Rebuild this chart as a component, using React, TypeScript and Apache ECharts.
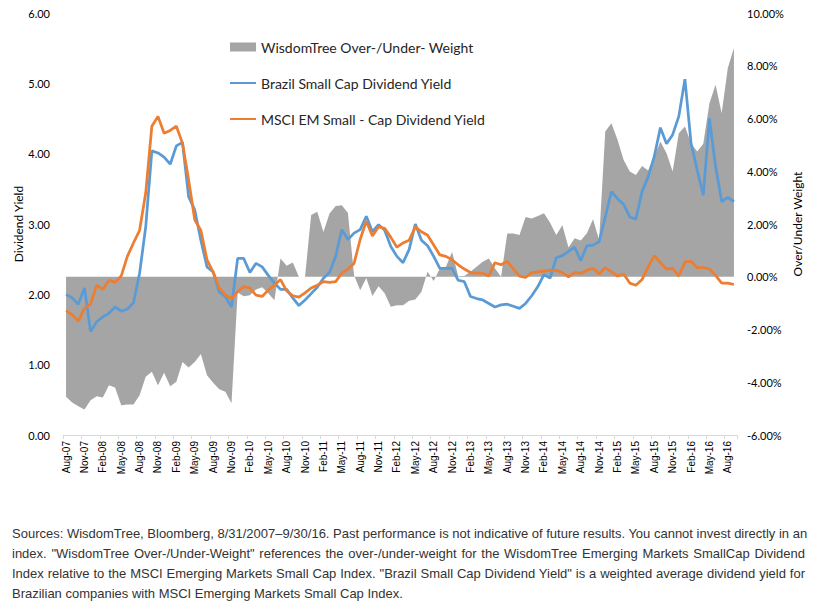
import React, { useEffect, useRef } from "react";
import * as echarts from "echarts";

const months = [
  "Aug-07","Sep-07","Oct-07","Nov-07","Dec-07","Jan-08","Feb-08","Mar-08","Apr-08","May-08","Jun-08","Jul-08",
  "Aug-08","Sep-08","Oct-08","Nov-08","Dec-08","Jan-09","Feb-09","Mar-09","Apr-09","May-09","Jun-09","Jul-09",
  "Aug-09","Sep-09","Oct-09","Nov-09","Dec-09","Jan-10","Feb-10","Mar-10","Apr-10","May-10","Jun-10","Jul-10",
  "Aug-10","Sep-10","Oct-10","Nov-10","Dec-10","Jan-11","Feb-11","Mar-11","Apr-11","May-11","Jun-11","Jul-11",
  "Aug-11","Sep-11","Oct-11","Nov-11","Dec-11","Jan-12","Feb-12","Mar-12","Apr-12","May-12","Jun-12","Jul-12",
  "Aug-12","Sep-12","Oct-12","Nov-12","Dec-12","Jan-13","Feb-13","Mar-13","Apr-13","May-13","Jun-13","Jul-13",
  "Aug-13","Sep-13","Oct-13","Nov-13","Dec-13","Jan-14","Feb-14","Mar-14","Apr-14","May-14","Jun-14","Jul-14",
  "Aug-14","Sep-14","Oct-14","Nov-14","Dec-14","Jan-15","Feb-15","Mar-15","Apr-15","May-15","Jun-15","Jul-15",
  "Aug-15","Sep-15","Oct-15","Nov-15","Dec-15","Jan-16","Feb-16","Mar-16","Apr-16","May-16","Jun-16","Jul-16",
  "Aug-16","Sep-16"
];

const brazilYield = [
  2.00,1.95,1.86,2.09,1.47,1.61,1.68,1.73,1.82,1.76,1.79,1.88,
  2.30,2.96,4.04,4.01,3.95,3.85,4.11,4.16,3.39,3.20,2.77,2.39,
  2.32,2.03,1.97,1.82,2.51,2.51,2.31,2.44,2.39,2.27,2.16,2.07,
  2.07,1.95,1.84,1.92,2.01,2.10,2.23,2.31,2.54,2.92,2.78,2.87,
  2.92,3.11,2.89,2.99,2.91,2.68,2.54,2.45,2.64,3.00,2.77,2.69,
  2.54,2.37,2.37,2.37,2.20,2.18,1.97,1.94,1.92,1.87,1.82,1.85,
  1.86,1.83,1.80,1.87,1.98,2.11,2.28,2.23,2.52,2.55,2.61,2.67,
  2.48,2.69,2.70,2.75,3.10,3.46,3.36,3.28,3.10,3.07,3.46,3.67,
  3.96,4.37,4.14,4.27,4.53,5.06,4.15,3.77,3.41,4.50,3.82,3.32,
  3.38,3.32
];

const msciYield = [
  1.77,1.71,1.62,1.80,1.86,2.13,2.07,2.20,2.17,2.26,2.54,2.73,
  2.91,3.44,4.39,4.53,4.29,4.33,4.39,4.15,3.63,3.06,2.91,2.49,
  2.32,2.09,1.99,1.94,2.04,2.11,2.09,1.99,1.97,2.06,2.13,2.21,
  2.05,1.98,1.96,2.02,2.09,2.13,2.18,2.17,2.18,2.30,2.36,2.44,
  2.78,3.04,2.83,2.96,2.94,2.81,2.67,2.73,2.77,2.96,2.89,2.84,
  2.70,2.56,2.54,2.49,2.42,2.36,2.31,2.30,2.30,2.26,2.45,2.42,
  2.47,2.36,2.26,2.24,2.31,2.32,2.33,2.34,2.34,2.31,2.25,2.31,
  2.30,2.34,2.37,2.29,2.38,2.32,2.26,2.29,2.16,2.13,2.21,2.39,
  2.55,2.45,2.36,2.37,2.26,2.46,2.47,2.38,2.38,2.36,2.27,2.16,
  2.16,2.14
];

const overUnderWeight = [
  -4.55,-4.77,-4.91,-5.03,-4.68,-4.53,-4.58,-4.11,-4.20,-4.87,-4.84,-4.84,
  -4.49,-3.79,-3.60,-4.11,-3.64,-4.15,-3.98,-3.23,-3.44,-3.23,-2.93,-3.73,
  -4.02,-4.27,-4.36,-4.80,-0.60,-0.74,-0.70,-0.48,-0.40,-0.63,-0.89,0.69,
  0.42,0.54,0.00,0.00,2.34,2.46,1.70,2.40,2.68,2.71,2.42,0.06,
  -0.51,-0.05,-0.73,-0.36,-0.63,-1.14,-1.08,-1.08,-0.91,-0.86,-0.57,0.19,
  -0.16,0.31,0.38,0.94,0.02,0.03,0.19,0.38,0.57,0.69,0.31,0.00,
  1.64,1.64,1.58,2.27,2.21,2.30,2.41,2.05,1.58,1.95,1.11,1.46,
  1.37,1.65,2.18,1.39,5.51,5.82,5.19,4.43,3.99,3.86,4.20,4.03,
  4.56,5.13,4.68,3.99,5.44,5.70,5.06,4.75,5.04,6.58,7.28,6.20,
  7.91,8.67
];

const seriesNames = [
  "WisdomTree Over-/Under- Weight",
  "Brazil Small Cap Dividend Yield",
  "MSCI EM Small - Cap Dividend Yield"
];

const footerLines = [
  "Sources: WisdomTree, Bloomberg, 8/31/2007\u20139/30/16. Past performance is not indicative of future results. You cannot invest directly in an",
  "index. \"WisdomTree Over-/Under-Weight\" references the over-/under-weight for the WisdomTree Emerging Markets SmallCap Dividend",
  "Index relative to the MSCI Emerging Markets Small Cap Index. \"Brazil Small Cap Dividend Yield\" is a weighted average dividend yield for",
  "Brazilian companies with MSCI Emerging Markets Small Cap Index."
];

const FONT = "Lato, 'Open Sans', sans-serif";

export default function App() {
  const ref = useRef<HTMLDivElement>(null);

  useEffect(() => {
    if (!ref.current) return;
    const chart = echarts.init(ref.current, undefined, { renderer: "svg" });
    chart.setOption({
      animation: false,
      backgroundColor: "#ffffff",
      grid: { left: 63, right: 79, top: 13, bottom: 180, containLabel: false, outerBoundsMode: "none" },
      legend: {
        orient: "vertical",
        left: 229,
        top: 40,
        padding: 0,
        itemGap: 22,
        itemWidth: 26,
        itemHeight: 9,
        textStyle: { fontFamily: FONT, fontSize: 14, color: "#262626", lineHeight: 14 },
        data: [
          { name: seriesNames[0], icon: "rect" },
          { name: seriesNames[1], itemStyle: { opacity: 0 } },
          { name: seriesNames[2], itemStyle: { opacity: 0 } }
        ]
      },
      xAxis: {
        type: "category",
        data: months,
        boundaryGap: true,
        axisLine: { lineStyle: { color: "#d9d9d9", width: 1 } },
        axisTick: { show: true, interval: 2, length: 4, lineStyle: { color: "#d9d9d9" } },
        axisLabel: {
          interval: 2,
          rotate: 90,
          fontFamily: "'Liberation Sans Narrow', 'Liberation Sans', Arial, sans-serif",
          fontSize: 10,
          color: "#000000",
          margin: 6
        },
        splitLine: { show: false }
      },
      yAxis: [
        {
          type: "value",
          min: 0,
          max: 6,
          interval: 1,
          position: "left",
          name: "Dividend Yield",
          nameLocation: "middle",
          nameRotate: 90,
          nameGap: 39,
          nameMoveOverlap: false,
          nameTextStyle: { fontFamily: FONT, fontSize: 12, color: "#000000" },
          axisLine: { show: false },
          axisTick: { show: false },
          splitLine: { show: false },
          axisLabel: {
            fontFamily: FONT,
            fontSize: 11,
            color: "#000000",
            margin: 13,
            formatter: (v: number) => v.toFixed(2)
          }
        },
        {
          type: "value",
          min: -6,
          max: 10,
          interval: 2,
          position: "right",
          name: "Over/Under Weight",
          nameLocation: "middle",
          nameRotate: 90,
          nameGap: 54,
          nameMoveOverlap: false,
          nameTextStyle: { fontFamily: FONT, fontSize: 12, color: "#000000" },
          axisLine: { show: false },
          axisTick: { show: false },
          splitLine: { show: false },
          axisLabel: {
            fontFamily: FONT,
            fontSize: 11,
            color: "#000000",
            margin: 10,
            formatter: (v: number) => v.toFixed(2) + "%"
          }
        }
      ],
      series: [
        {
          name: seriesNames[0],
          type: "line",
          yAxisIndex: 1,
          data: overUnderWeight,
          symbol: "none",
          lineStyle: { width: 0, color: "#a5a5a5" },
          itemStyle: { color: "#a5a5a5" },
          areaStyle: { color: "#a5a5a5", opacity: 1 },
          z: 1
        },
        {
          name: seriesNames[1],
          type: "line",
          yAxisIndex: 0,
          data: brazilYield,
          symbol: "none",
          lineStyle: { width: 2.75, color: "#5b9bd5" },
          itemStyle: { color: "#5b9bd5" },
          z: 2
        },
        {
          name: seriesNames[2],
          type: "line",
          yAxisIndex: 0,
          data: msciYield,
          symbol: "none",
          lineStyle: { width: 2.75, color: "#ed7d31" },
          itemStyle: { color: "#ed7d31" },
          z: 3
        }
      ]
    });
    return () => chart.dispose();
  }, []);

  return (
    <div style={{ position: "absolute", left: 0, top: 0, width: 816, height: 615, background: "#fff", overflow: "hidden" }}>
      <div ref={ref} style={{ position: "absolute", left: 0, top: 0, width: 816, height: 615 }} />
      <div
        style={{
          position: "absolute",
          left: 12,
          top: 524,
          width: 793,
          fontFamily: "'Liberation Sans', Arial, sans-serif",
          fontSize: 13,
          lineHeight: "20px",
          color: "#333333"
        }}
      >
        {footerLines.map((line, i) => (
          <div
            key={i}
            style={{
              textAlign: "justify",
              textAlignLast: i < footerLines.length - 1 ? "justify" : "left",
              whiteSpace: "nowrap"
            } as React.CSSProperties}
          >
            {line}
          </div>
        ))}
      </div>
    </div>
  );
}
